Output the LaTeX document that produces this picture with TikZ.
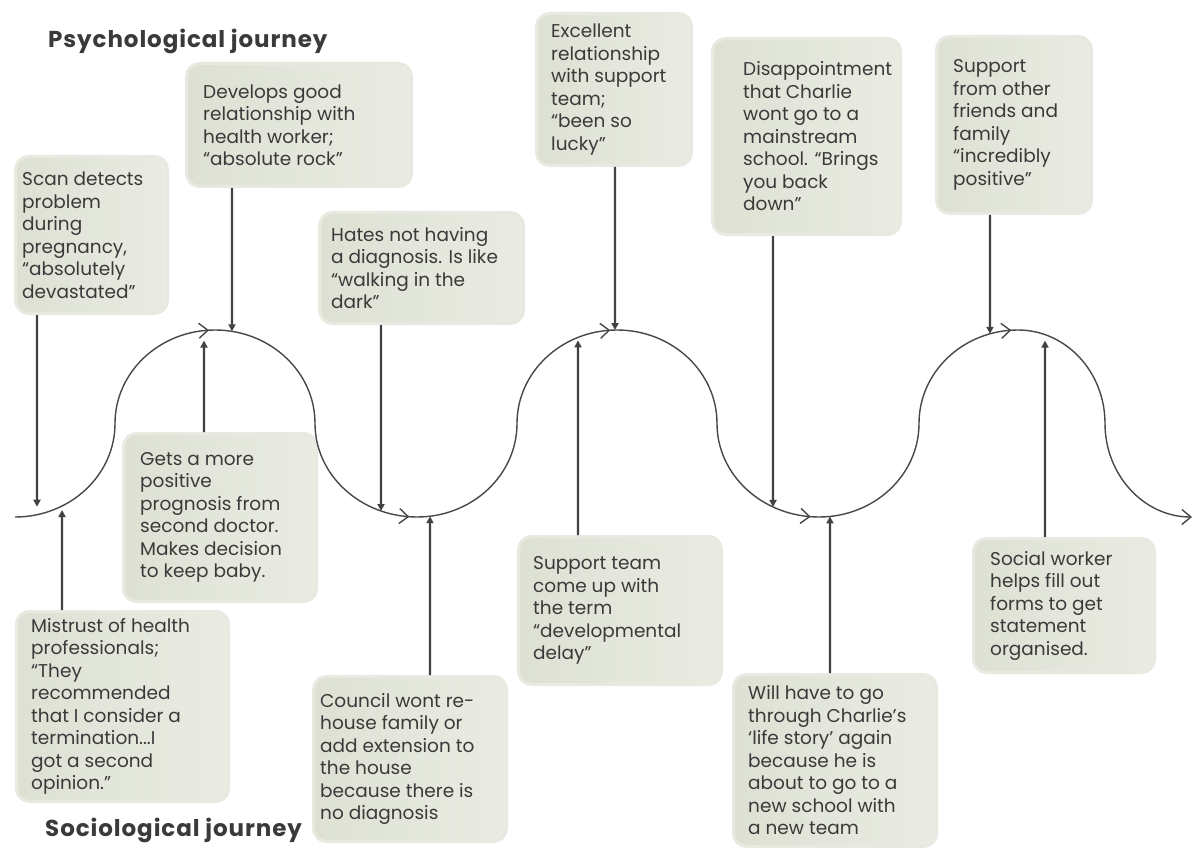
\documentclass[tikz,border=0pt]{standalone}
\usepackage{fontspec}
\setmainfont{Poppins}
\usetikzlibrary{arrows.meta,decorations.markings,intersections}

\definecolor{boxl}{RGB}{221,225,211}
\definecolor{boxr}{RGB}{234,236,227}
\definecolor{boxedge}{RGB}{232,234,226}
\definecolor{ink}{RGB}{58,58,58}
\definecolor{wavec}{RGB}{72,72,72}
\definecolor{connc}{RGB}{66,66,66}

\tikzset{
  jbox/.style={rectangle, rounded corners=13pt, left color=boxl, right color=boxr,
    draw=boxedge, line width=3pt, inner sep=0pt, anchor=north west},
  jtext/.style={anchor=west, align=left, inner sep=0pt, text=ink,
    font=\fontsize{18.5}{22.5}\selectfont},
  jtitle/.style={anchor=west, inner sep=0pt, text=ink,
    font=\fontsize{23}{27}\selectfont\bfseries\addfontfeature{LetterSpace=4}},
  conn/.style={draw=connc, line width=2.2pt, -{Triangle[length=7pt,width=7pt]}},
  chev/.tip={Straight Barb[length=9pt,width=15pt]},
  wave/.style={draw=wavec, line width=1.4pt, -chev,
    decoration={markings,
      mark=at position 298pt with {\arrow{chev}},
      mark=at position 602pt with {\arrow{chev}},
      mark=at position 907pt with {\arrow{chev}},
      mark=at position 1211pt with {\arrow{chev}},
      mark=at position 1516pt with {\arrow{chev}}},
    postaction={decorate}}
}

% connector from a box edge towards the wave, x offset from the box's left side;
% the optional argument leaves a small gap before the wave
\newcommand\downlink[3][0]{%
  \path[name path=l-#2] ([xshift=#3pt]#2.south west) -- ++(0,400);
  \path[name intersections={of=wavep and l-#2, by={w-#2}}];
  \draw[conn, shorten >=#1pt] ([xshift=#3pt]#2.south west) -- (w-#2);}
\newcommand\uplink[3][0]{%
  \path[name path=l-#2] ([xshift=#3pt]#2.north west) -- ++(0,-400);
  \path[name intersections={of=wavep and l-#2, by={w-#2}}];
  \draw[conn, shorten >=#1pt] ([xshift=#3pt]#2.north west) -- (w-#2);}

\begin{document}
\begin{tikzpicture}[x=1pt,y=-1pt]
\fill[white] (0,0) rectangle (1195,848);
\useasboundingbox (0,0) rectangle (1195,848);

% titles
\node[jtitle] (psy) at (48,41) {Psychological journey};
\node[jtitle] (soc) at (45,830) {Sociological journey};

% psychological events (above the wave)
\node[jbox, minimum width=152pt, minimum height=157pt] (scan) at (14,155) {};
\node[jtext] (scan-t) at ([xshift=8pt]scan.west)
  {Scan detects\\problem\\during\\pregnancy,\\“absolutely\\devastated”};

\node[jbox, minimum width=225pt, minimum height=123pt] (dev) at (185,62) {};
\node[jtext] (dev-t) at ([xshift=18pt]dev.west)
  {Develops good\\relationship with\\health worker;\\“absolute rock”};

\node[jbox, minimum width=204pt, minimum height=111pt] (hates) at (318,211) {};
\node[jtext] (hates-t) at ([xshift=13pt]hates.west)
  {Hates not having\\a diagnosis. Is like\\“walking in the\\dark”};

\node[jbox, minimum width=155pt, minimum height=152pt] (exc) at (535,12) {};
\node[jtext] (exc-t) at ([xshift=16pt]exc.west)
  {Excellent\\relationship\\with support\\team;\\“been so\\lucky”};

\node[jbox, minimum width=188pt, minimum height=196pt] (dis) at (711,37) {};
\node[jtext] (dis-t) at ([xshift=32pt]dis.west)
  {Disappointment\\that Charlie\\wont go to a\\mainstream\\school. “Brings\\you back\\down”};

\node[jbox, minimum width=155pt, minimum height=177pt] (sup) at (935,35) {};
\node[jtext] (sup-t) at ([xshift=18pt]sup.west)
  {Support\\from other\\friends and\\family\\“incredibly\\positive”};

% sociological events (below the wave)
\node[jbox, minimum width=193pt, minimum height=168pt] (gets) at (122,432) {};
\node[jtext] (gets-t) at ([xshift=18pt]gets.west)
  {Gets a more\\positive\\prognosis from\\second doctor.\\Makes decision\\to keep baby.};

\node[jbox, minimum width=212pt, minimum height=190pt] (mis) at (15,610) {};
\node[jtext] (mis-t) at ([xshift=16pt]mis.west)
  {Mistrust of health\\professionals;\\“They\\recommended\\that I consider a\\termination...I\\got a second\\opinion.”};

\node[jbox, minimum width=193pt, minimum height=165pt] (cou) at (312,675) {};
\node[jtext] (cou-t) at ([xshift=8pt]cou.west)
  {Council wont re-\\house family or\\add extension to\\the house\\because there is\\no diagnosis};

\node[jbox, minimum width=203pt, minimum height=148pt] (team) at (517,535) {};
\node[jtext] (team-t) at ([xshift=16pt]team.west)
  {Support team\\come up with\\the term\\“developmental\\delay”};

\node[jbox, minimum width=203pt, minimum height=172pt] (will) at (732,673) {};
\node[jtext] (will-t) at ([xshift=16pt]will.west)
  {Will have to go\\through Charlie’s\\‘life story’ again\\because he is\\about to go to a\\new school with\\a new team};

\node[jbox, minimum width=181pt, minimum height=134pt] (soc-w) at (972,537) {};
\node[jtext] (soc-w-t) at ([xshift=18pt]soc-w.west)
  {Social worker\\helps fill out\\forms to get\\statement\\organised.};

% the journey wave
\draw[wave, name path=wavep]
  (15,517) .. controls (70.2,517) and (115,475.1) .. (115,423.5)
  .. controls (115,371.9) and (159.8,330) .. (215,330)
  .. controls (270.2,330) and (315,371.9) .. (315,423.5)
  .. controls (315,475.1) and (360.7,517) .. (417,517)
  .. controls (472.2,517) and (517,475.1) .. (517,423.5)
  .. controls (517,371.9) and (561.8,330) .. (617,330)
  .. controls (672.2,330) and (717,371.9) .. (717,423.5)
  .. controls (717,475.1) and (762.7,517) .. (819,517)
  .. controls (874.2,517) and (919,475.1) .. (919,423.5)
  .. controls (919,371.9) and (963.3,330) .. (1018,330)
  .. controls (1066,330) and (1105,371.9) .. (1105,423.5)
  .. controls (1105,475.1) and (1144,517) .. (1192,517);

% connectors
\downlink[8]{scan}{23}
\downlink{dev}{47}
\downlink{hates}{63}
\downlink{exc}{80}
\downlink{dis}{62}
\downlink{sup}{55}
\uplink[10]{gets}{82}
\uplink[4]{mis}{47}
\uplink{cou}{118}
\uplink[3]{team}{61}
\uplink{will}{98}
\uplink[6]{soc-w}{73}
\end{tikzpicture}
\end{document}
